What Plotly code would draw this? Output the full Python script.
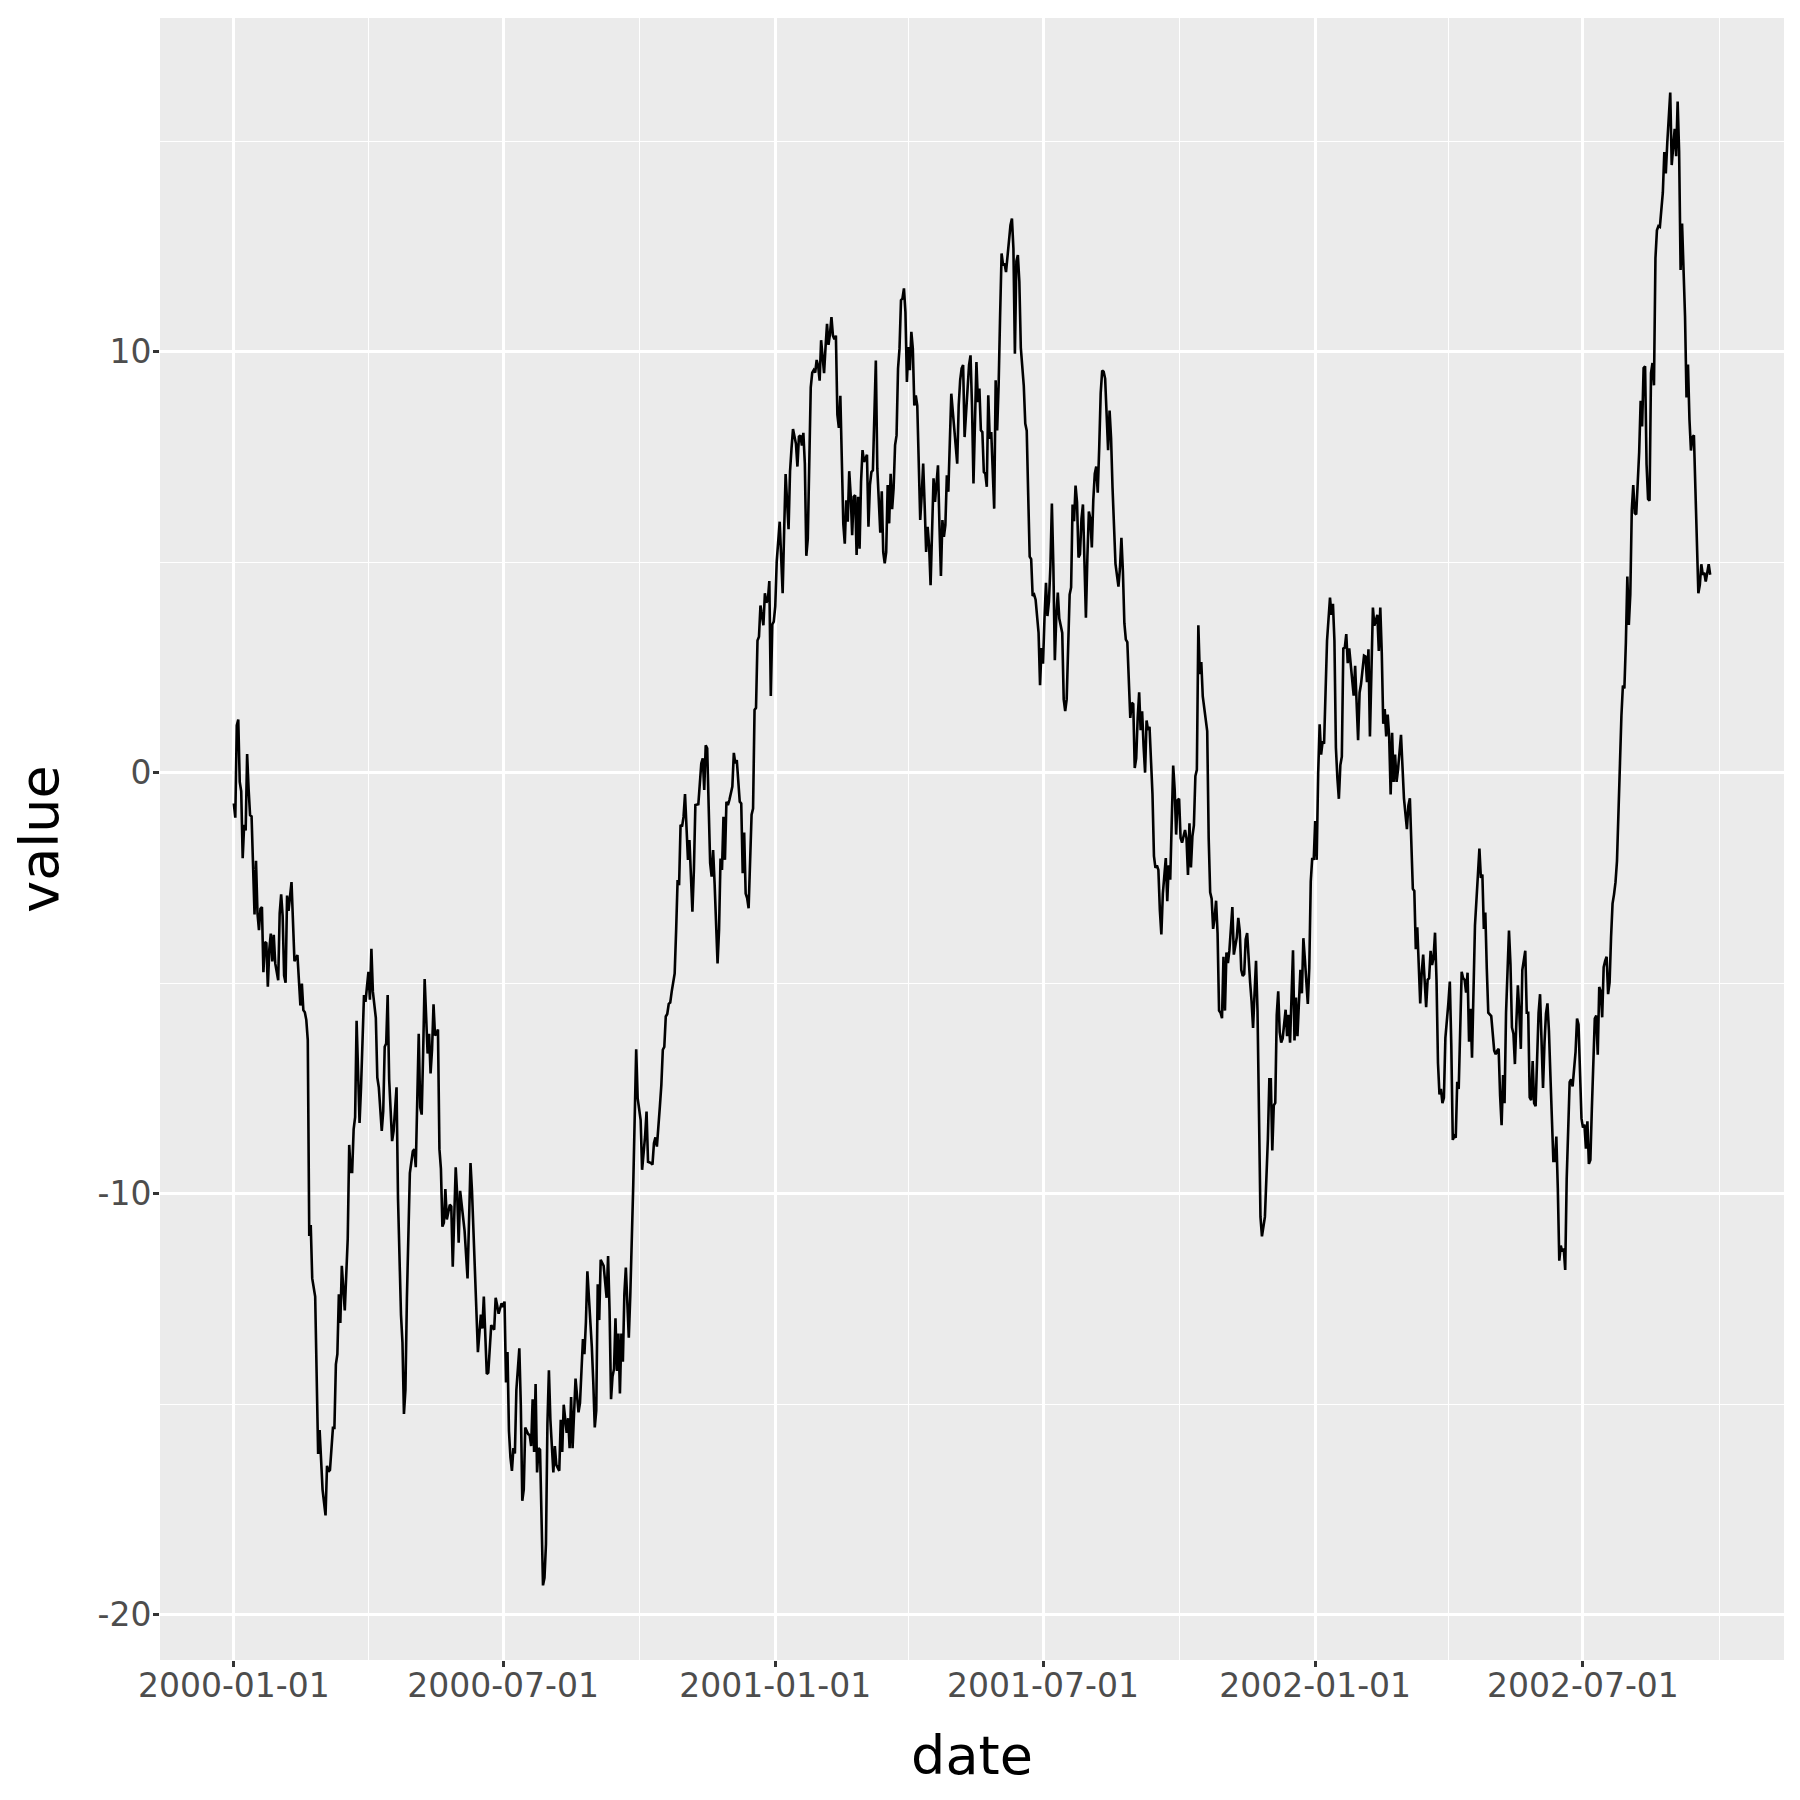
import pandas as pd
import plotly.graph_objects as go

# daily random-walk style series
start_date = "2000-01-01"

days = [
    0, 1, 2, 3, 4, 5, 6, 7, 8, 9,
    10, 11, 12, 13, 14, 15, 16, 17, 18, 19,
    20, 21, 22, 23, 24, 25, 26, 27, 28, 30,
    31, 32, 33, 34, 35, 36, 37, 39, 40, 41,
    43, 44, 45, 46, 47, 48, 49, 50, 51, 52,
    53, 55, 57, 58, 60, 62, 63, 64, 65, 67,
    68, 69, 70, 71, 72, 73, 75, 77, 78, 79,
    80, 81, 82, 83, 85, 86, 88, 89, 91, 92,
    93, 94, 96, 97, 98, 100, 101, 102, 103, 104,
    105, 107, 108, 110, 111, 113, 114, 115, 116, 117,
    118, 119, 121, 122, 123, 124, 125, 126, 127, 128,
    129, 131, 132, 133, 134, 135, 136, 137, 138, 139,
    140, 141, 142, 143, 144, 146, 147, 148, 149, 150,
    151, 152, 153, 155, 156, 158, 159, 160, 161, 163,
    164, 165, 167, 168, 169, 170, 171, 172, 173, 174,
    176, 177, 178, 179, 181, 182, 183, 184, 185, 186,
    187, 188, 189, 190, 191, 192, 193, 194, 195, 196,
    197, 199, 200, 201, 202, 203, 204, 205, 206, 207,
    208, 209, 210, 211, 212, 213, 214, 216, 217, 218,
    220, 221, 222, 223, 225, 226, 227, 228, 229, 230,
    231, 233, 234, 235, 236, 237, 238, 239, 241, 242,
    243, 244, 245, 246, 247, 248, 250, 252, 253, 254,
    255, 256, 257, 258, 259, 260, 261, 262, 263, 264,
    265, 267, 268, 269, 270, 272, 273, 275, 276, 278,
    279, 280, 282, 283, 284, 285, 286, 288, 289, 290,
    291, 292, 293, 294, 295, 296, 298, 299, 300, 301,
    302, 303, 304, 305, 306, 307, 308, 309, 310, 311,
    312, 314, 315, 316, 317, 318, 319, 320, 321, 322,
    323, 324, 325, 326, 327, 328, 329, 330, 331, 332,
    333, 334, 335, 337, 338, 339, 340, 342, 343, 344,
    345, 346, 347, 348, 349, 350, 351, 352, 353, 354,
    355, 356, 358, 359, 360, 361, 362, 363, 364, 365,
    366, 367, 369, 370, 371, 372, 373, 375, 376, 377,
    378, 380, 381, 382, 383, 384, 385, 386, 387, 388,
    389, 390, 391, 392, 393, 394, 395, 396, 397, 398,
    399, 400, 401, 402, 403, 404, 405, 406, 407, 408,
    409, 410, 411, 412, 413, 414, 415, 416, 417, 418,
    419, 420, 421, 422, 423, 424, 425, 426, 428, 429,
    430, 431, 432, 433, 434, 435, 436, 437, 438, 439,
    440, 441, 442, 443, 444, 445, 446, 447, 448, 449,
    450, 451, 452, 453, 454, 455, 456, 457, 458, 459,
    460, 461, 462, 463, 464, 465, 466, 467, 468, 469,
    470, 471, 472, 473, 474, 476, 477, 478, 479, 480,
    481, 482, 483, 484, 485, 487, 488, 489, 490, 491,
    492, 493, 494, 495, 496, 497, 498, 499, 500, 501,
    502, 503, 504, 505, 506, 507, 508, 509, 510, 511,
    512, 514, 515, 516, 517, 518, 519, 520, 521, 522,
    523, 525, 526, 527, 528, 529, 530, 531, 532, 534,
    535, 536, 537, 538, 539, 540, 541, 542, 544, 545,
    546, 547, 548, 549, 550, 551, 552, 553, 554, 555,
    556, 557, 558, 560, 561, 562, 563, 564, 565, 566,
    567, 568, 569, 570, 571, 572, 573, 574, 575, 576,
    577, 578, 579, 580, 581, 582, 583, 584, 585, 586,
    587, 588, 589, 590, 591, 592, 593, 594, 595, 596,
    598, 599, 600, 601, 602, 603, 604, 605, 606, 607,
    608, 609, 610, 611, 612, 613, 614, 615, 616, 617,
    618, 619, 620, 621, 622, 623, 624, 625, 626, 627,
    628, 630, 631, 632, 633, 634, 635, 636, 637, 638,
    639, 640, 641, 643, 644, 645, 646, 647, 648, 649,
    650, 651, 652, 653, 654, 655, 656, 658, 659, 660,
    661, 662, 663, 664, 665, 666, 667, 668, 669, 670,
    671, 672, 673, 674, 675, 676, 678, 679, 680, 681,
    682, 683, 684, 685, 686, 687, 688, 689, 690, 691,
    692, 693, 694, 695, 696, 697, 699, 700, 701, 702,
    703, 704, 705, 706, 707, 708, 709, 711, 712, 713,
    714, 715, 716, 717, 718, 719, 720, 721, 722, 723,
    724, 725, 726, 727, 728, 729, 730, 731, 732, 733,
    734, 735, 736, 737, 738, 739, 740, 741, 742, 743,
    744, 745, 746, 747, 748, 749, 750, 751, 752, 753,
    754, 756, 757, 758, 760, 761, 762, 764, 765, 766,
    767, 768, 769, 770, 771, 772, 773, 774, 775, 776,
    777, 778, 779, 780, 781, 782, 783, 784, 785, 786,
    787, 789, 790, 791, 793, 794, 795, 796, 797, 798,
    799, 800, 801, 802, 803, 804, 806, 807, 808, 809,
    810, 811, 812, 813, 814, 815, 816, 817, 818, 819,
    821, 822, 823, 824, 825, 826, 827, 828, 829, 830,
    831, 832, 833, 834, 835, 836, 837, 838, 839, 841,
    842, 843, 844, 845, 846, 847, 848, 849, 850, 852,
    853, 854, 855, 856, 857, 858, 859, 860, 862, 863,
    864, 865, 866, 867, 868, 869, 870, 871, 872, 873,
    874, 875, 876, 877, 878, 879, 880, 881, 882, 883,
    884, 885, 886, 887, 888, 889, 890, 891, 892, 893,
    894, 895, 896, 897, 898, 899, 900, 901, 902, 903,
    904, 905, 907, 908, 909, 910, 911, 912, 913, 914,
    915, 916, 917, 918, 919, 920, 921, 922, 923, 924,
    925, 926, 927, 928, 929, 930, 931, 932, 933, 934,
    935, 936, 937, 938, 939, 940, 941, 942, 943, 944,
    945, 946, 947, 948, 950, 951, 952, 953, 954, 955,
    956, 957, 958, 959, 960, 961, 962, 963, 964, 965,
    966, 967, 968, 969, 970, 971, 972, 973, 974, 975,
    976, 977, 978, 979, 980, 981, 982, 983, 984, 985,
    986, 987, 988, 989, 990, 991, 992, 993, 994, 995,
    996, 997, 998,
]

values = [
    -0.73, -1.07, 1.12, 1.26, -0.22, -0.44, -2.03, -1.24, -1.37, 0.44,
    -0.39, -1.01, -1.04, -2.26, -3.37, -2.09, -3.34, -3.74, -3.23, -3.19,
    -4.74, -4.02, -4.05, -5.08, -4.19, -3.82, -4.48, -3.85, -4.53, -4.93,
    -3.34, -2.89, -3.40, -4.82, -4.99, -2.92, -3.28, -2.60, -3.40, -4.48,
    -4.33, -4.99, -5.53, -5.01, -5.64, -5.69, -5.87, -6.35, -11.00, -10.74,
    -12.01, -12.44, -16.18, -15.61, -17.03, -17.64, -16.46, -16.60, -16.56, -15.56,
    -15.56, -14.05, -13.81, -12.39, -13.07, -11.71, -12.77, -11.07, -8.84, -9.48,
    -9.48, -8.47, -8.18, -5.89, -8.32, -7.47, -5.28, -5.44, -4.73, -5.39,
    -4.18, -5.20, -5.82, -7.24, -7.47, -8.51, -8.04, -6.51, -6.43, -5.28,
    -7.28, -8.75, -8.51, -7.47, -10.12, -12.87, -13.53, -15.23, -14.66, -12.49,
    -10.69, -9.51, -8.99, -8.94, -9.37, -7.85, -6.20, -7.95, -8.12, -6.62,
    -4.90, -6.67, -6.20, -7.14, -6.57, -5.50, -6.24, -6.20, -6.10, -8.94,
    -9.41, -10.78, -10.69, -9.89, -10.61, -10.26, -10.30, -11.73, -10.50, -9.37,
    -10.03, -11.16, -9.93, -10.55, -10.88, -12.01, -10.59, -9.27, -9.93, -11.64,
    -12.58, -13.76, -12.87, -13.20, -12.44, -13.20, -14.28, -14.25, -13.58, -13.12,
    -13.23, -12.47, -12.65, -12.85, -12.60, -12.69, -12.56, -14.48, -13.76, -15.64,
    -16.26, -16.58, -16.04, -16.17, -14.66, -14.12, -13.67, -15.01, -17.29, -17.02,
    -15.55, -15.71, -15.73, -15.99, -14.88, -16.13, -14.52, -16.62, -16.04, -16.08,
    -17.91, -19.30, -19.12, -18.32, -15.46, -14.19, -15.37, -16.62, -15.99, -16.44,
    -16.58, -15.37, -16.13, -15.01, -15.68, -15.33, -16.04, -14.83, -16.04, -15.19,
    -14.39, -15.19, -14.97, -14.21, -13.45, -13.81, -13.05, -11.84, -12.91, -13.63,
    -14.48, -15.55, -15.15, -12.15, -13.00, -11.57, -11.71, -12.47, -11.48, -12.78,
    -14.88, -14.34, -14.16, -12.96, -14.21, -13.32, -14.74, -13.32, -13.99, -12.38,
    -11.75, -13.42, -12.42, -11.35, -9.80, -6.57, -7.73, -8.25, -9.43, -8.64,
    -8.05, -9.24, -9.27, -9.31, -8.80, -8.66, -8.88, -7.93, -7.42, -6.58,
    -6.51, -5.79, -5.73, -5.49, -5.46, -5.20, -4.77, -3.74, -2.55, -2.67,
    -1.24, -1.28, -1.05, -0.51, -1.28, -2.07, -1.60, -2.55, -3.30, -2.31,
    -0.77, -0.75, -0.25, 0.22, 0.34, -0.41, 0.65, 0.58, -0.81, -2.15,
    -2.47, -1.84, -2.63, -3.50, -4.53, -3.74, -2.04, -2.31, -1.05, -2.07,
    -0.69, -0.77, -0.65, -0.33, 0.47, 0.22, 0.30, -0.69, -0.73, -2.39,
    -1.42, -2.87, -2.98, -3.22, -2.15, -1.00, -0.85, 1.49, 1.54, 3.14,
    3.23, 3.97, 3.50, 4.26, 4.04, 4.10, 4.55, 1.82, 3.52, 3.59,
    3.95, 5.02, 5.96, 4.93, 4.26, 5.73, 7.09, 5.78, 7.16, 7.70,
    8.16, 7.81, 7.27, 7.98, 8.01, 7.77, 8.07, 7.34, 5.15, 5.56,
    7.16, 9.15, 9.50, 9.56, 9.50, 9.80, 9.66, 9.31, 10.27, 9.84,
    9.49, 10.11, 10.66, 10.16, 10.42, 10.82, 10.38, 10.29, 10.38, 8.50,
    8.19, 8.95, 7.16, 5.91, 5.44, 6.47, 5.96, 7.16, 6.59, 5.64,
    6.55, 6.59, 5.17, 6.55, 5.32, 6.91, 7.66, 7.38, 7.55, 5.84,
    6.83, 7.14, 7.18, 8.25, 9.79, 7.22, 6.51, 5.70, 6.68, 5.24,
    4.97, 5.24, 6.83, 5.92, 7.10, 6.26, 6.75, 7.78, 8.01, 9.60,
    10.07, 11.22, 11.26, 11.50, 10.94, 9.28, 10.11, 9.56, 10.47, 10.07,
    8.72, 8.96, 8.72, 7.22, 6.00, 6.59, 7.34, 6.35, 5.24, 5.84,
    5.40, 4.45, 5.56, 6.99, 6.43, 7.30, 5.88, 4.67, 6.00, 5.60,
    5.88, 7.06, 6.67, 7.93, 9.00, 8.17, 7.78, 7.34, 8.72, 9.32,
    9.60, 9.68, 7.97, 8.49, 9.24, 9.68, 9.91, 8.72, 6.87, 8.33,
    9.75, 8.80, 9.12, 8.13, 8.09, 7.14, 7.10, 6.79, 8.96, 7.93,
    8.09, 6.27, 9.32, 8.13, 9.20, 10.86, 12.33, 12.05, 12.09, 11.89,
    12.25, 13.00, 13.16, 12.45, 9.95, 12.15, 12.29, 11.67, 10.09, 9.19,
    8.29, 8.12, 6.59, 5.13, 5.07, 4.20, 4.23, 4.11, 3.32, 2.08,
    2.96, 2.59, 3.66, 4.51, 3.72, 4.06, 4.90, 6.39, 4.90, 2.67,
    3.72, 4.28, 3.66, 3.32, 1.74, 1.46, 1.74, 3.10, 4.23, 4.40,
    6.37, 5.97, 6.82, 6.42, 5.11, 5.19, 6.03, 6.37, 4.90, 3.68,
    5.13, 6.20, 6.03, 5.35, 6.48, 7.10, 7.27, 6.65, 7.72, 9.02,
    9.55, 9.52, 9.36, 8.51, 7.66, 8.60, 7.95, 6.76, 5.80, 4.96,
    4.42, 4.85, 5.58, 4.79, 3.55, 3.16, 3.10, 2.03, 1.30, 1.66,
    1.63, 0.11, 0.34, 1.30, 1.91, 1.01, 1.46, 0.62, 0.00, 1.24,
    1.01, 1.09, 0.39, -0.51, -1.98, -2.26, -2.20, -2.31, -3.27, -3.84,
    -2.88, -2.03, -3.05, -2.20, -2.54, -0.96, 0.17, -0.40, -1.47, -0.65,
    -0.62, -1.55, -1.66, -1.36, -1.56, -2.43, -1.20, -2.25, -1.51, -1.25,
    -0.08, 0.07, 3.50, 2.34, 2.63, 1.81, 1.56, 0.99, -1.56, -2.84,
    -2.99, -3.71, -3.45, -3.04, -3.81, -5.65, -5.70, -5.83, -4.37, -5.65,
    -4.27, -4.52, -4.22, -3.60, -3.19, -4.32, -3.91, -3.45, -3.76, -4.68,
    -4.83, -4.78, -3.96, -3.81, -4.57, -4.98, -5.44, -6.06, -5.24, -4.47,
    -5.65, -8.30, -10.55, -11.01, -10.76, -10.55, -8.71, -7.28, -7.28, -8.97,
    -7.90, -7.84, -5.75, -5.19, -6.16, -6.41, -6.31, -5.63, -6.26, -5.75,
    -6.41, -5.24, -4.22, -6.36, -5.34, -6.26, -5.24, -4.68, -5.24, -3.93,
    -4.42, -5.08, -5.49, -4.63, -2.58, -2.02, -2.07, -1.15, -2.07, -0.03,
    1.15, 0.43, 0.74, 0.69, 2.02, 3.14, 3.65, 4.16, 3.75, 4.01,
    3.14, 0.59, -0.13, -0.62, 0.18, 0.38, 2.95, 2.97, 3.29, 2.60,
    2.95, 2.20, 1.83, 2.54, 0.77, 1.90, 2.11, 2.78, 2.76, 2.15,
    2.93, 0.86, 2.33, 3.92, 3.49, 3.62, 3.75, 2.89, 3.92, 2.85,
    1.16, 1.51, 0.86, 1.38, 0.86, -0.52, 0.95, -0.22, 0.43, -0.22,
    0.08, 0.90, 0.26, -0.61, -1.34, -0.78, -0.61, -1.99, -2.76, -2.81,
    -4.19, -3.67, -4.50, -5.48, -4.75, -4.32, -5.57, -4.92, -4.88, -4.23,
    -4.57, -4.40, -3.80, -4.92, -6.90, -7.64, -7.51, -7.85, -7.72, -6.30,
    -5.48, -4.96, -6.47, -8.72, -8.63, -8.67, -7.34, -7.51, -6.13, -4.73,
    -4.88, -4.92, -5.22, -4.75, -6.39, -5.61, -6.77, -5.35, -3.63, -2.42,
    -1.80, -2.50, -2.42, -3.71, -3.32, -4.66, -5.70, -5.74, -5.78, -6.60,
    -6.69, -6.60, -6.56, -7.68, -8.37, -7.18, -7.85, -5.70, -3.75, -4.54,
    -6.05, -6.20, -6.92, -5.91, -5.05, -5.70, -6.56, -4.69, -4.47, -4.23,
    -5.70, -5.70, -7.71, -7.78, -6.85, -7.85, -7.92, -6.63, -5.70, -5.26,
    -6.41, -7.49, -6.41, -5.72, -5.48, -6.13, -7.20, -8.28, -9.22, -9.22,
    -8.64, -9.87, -11.59, -11.23, -11.37, -11.30, -11.81, -9.65, -8.43, -7.35,
    -7.28, -7.45, -6.63, -5.84, -5.98, -7.20, -8.21, -8.43, -8.36, -8.93,
    -8.28, -9.29, -9.20, -7.99, -6.85, -5.84, -5.77, -6.70, -5.09, -5.19,
    -5.81, -4.62, -4.47, -4.37, -5.26, -4.98, -3.90, -3.11, -2.89, -2.60,
    -2.10, -0.81, 0.10, 1.35, 2.07, 2.00, 3.08, 4.66, 3.51, 4.23,
    6.24, 6.83, 6.17, 6.13, 7.61, 8.83, 8.22, 9.61, 9.65, 7.32,
    6.50, 6.46, 9.49, 9.73, 9.20, 12.22, 12.88, 12.98, 12.96, 13.37,
    13.78, 14.74, 14.23, 14.96, 15.49, 16.15, 14.43, 14.84, 15.29, 14.64,
    15.94, 14.76, 11.94, 13.04, 11.98, 10.84, 8.91, 9.69, 8.38, 7.65,
    7.97, 8.01, 6.75, 5.28, 4.26, 4.46, 4.95, 4.70, 4.75, 4.54,
    4.79, 4.95, 4.70,
]

x_major = ["2000-01-01", "2000-07-01", "2001-01-01", "2001-07-01", "2002-01-01", "2002-07-01"]
x_minor = ["2000-04-01", "2000-10-01", "2001-04-01", "2001-10-01", "2002-04-01", "2002-10-01"]
y_major = [-20, -10, 0, 10]
y_minor = [-15, -5, 5, 15]

dates = pd.Timestamp(start_date) + pd.to_timedelta(days, unit="D")

# ggplot default: pad each axis by 5% of the data range
x_pad = (dates.max() - dates.min()) * 0.05
y_pad = (max(values) - min(values)) * 0.05

fig = go.Figure()
fig.add_trace(go.Scatter(
    x=dates, y=values, mode="lines",
    line=dict(color="black", width=2.6),
    showlegend=False,
))

axis_style = dict(
    showgrid=True, gridcolor="white", gridwidth=2.8,
    zeroline=False, showline=False,
    ticks="outside", ticklen=6, tickwidth=2.6, tickcolor="#333333",
    tickfont=dict(family="DejaVu Sans", size=33, color="#4D4D4D"),
)

fig.update_xaxes(
    **axis_style,
    type="date",
    range=[dates.min() - x_pad, dates.max() + x_pad],
    tickmode="array", tickvals=x_major, tickformat="%Y-%m-%d",
    ticklabelstandoff=-10,
    minor=dict(tickmode="array", tickvals=x_minor, showgrid=True,
               gridcolor="white", gridwidth=1.4, ticks=""),
    title=dict(text="date", font=dict(family="DejaVu Sans", size=54, color="black"),
               standoff=32),
)
fig.update_yaxes(
    **axis_style,
    range=[min(values) - y_pad, max(values) + y_pad],
    tickmode="array", tickvals=y_major, ticktext=[str(v) for v in y_major],
    ticklabelstandoff=-5,
    minor=dict(tickmode="array", tickvals=y_minor, showgrid=True,
               gridcolor="white", gridwidth=1.4, ticks=""),
    title=dict(text="value", font=dict(family="DejaVu Sans", size=54, color="black"),
               standoff=38),
)

# the page body adds an 8px offset, so the margins are shifted to match
fig.update_layout(
    width=1800, height=1800,
    margin=dict(l=152, r=24, t=10, b=148),
    plot_bgcolor="#EBEBEB", paper_bgcolor="white",
)

fig.write_html("out.html")
